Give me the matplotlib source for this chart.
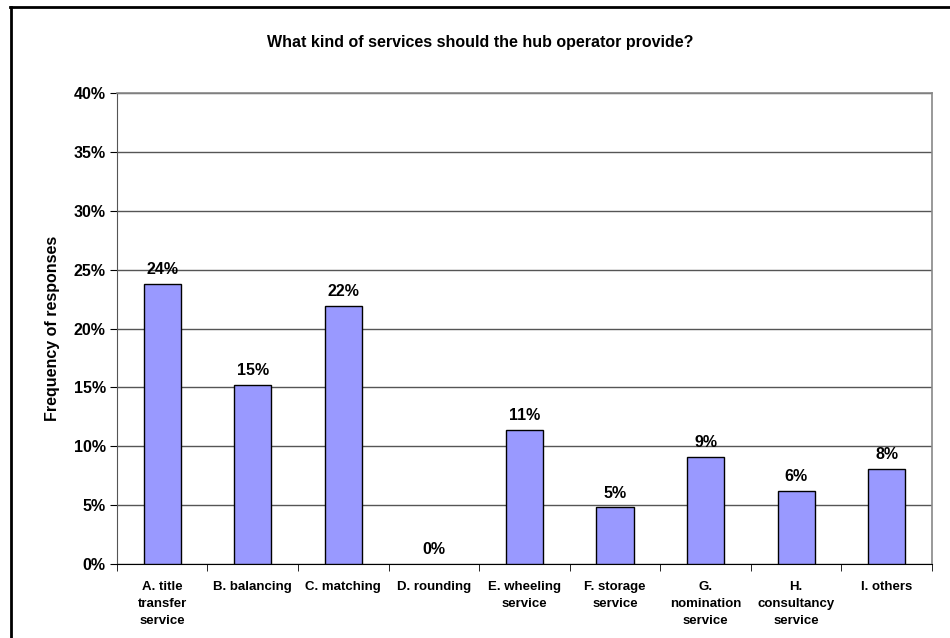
import matplotlib
matplotlib.use("Agg")
import matplotlib.pyplot as plt
from matplotlib.lines import Line2D
import numpy as np

plt.rcParams['font.family'] = ['Liberation Sans', 'DejaVu Sans']
plt.rcParams['font.weight'] = 'bold'

categories = ["A. title\ntransfer\nservice", "B. balancing", "C. matching", "D. rounding",
              "E. wheeling\nservice", "F. storage\nservice", "G.\nnomination\nservice",
              "H.\nconsultancy\nservice", "I. others"]
values = [23.8, 15.2, 21.9, 0.0, 11.4, 4.8, 9.1, 6.2, 8.1]
yticks = [0, 5, 10, 15, 20, 25, 30, 35, 40]

fig = plt.figure(figsize=(9.5, 6.38), dpi=100)
ax = fig.add_axes([0.123, 0.116, 0.858, 0.738])

x = np.arange(len(categories))
edges = ['black' if v > 0 else 'none' for v in values]
ax.bar(x, values, width=0.41, color='#9999FF', edgecolor=edges, linewidth=1.0, zorder=3)

for xi, v in zip(x, values):
    ax.annotate("%d%%" % round(v), (xi, v), xytext=(0, 5), textcoords='offset points',
                ha='center', va='bottom', fontsize=11.5, fontweight='bold', zorder=4)

ax.set_xlim(-0.5, len(categories) - 0.5)
ax.set_ylim(0, 40)
ax.set_yticks(yticks)
ax.set_yticklabels(["%d%%" % t for t in yticks], fontsize=11.5, fontweight='bold')
ax.yaxis.grid(True, color='#555555', linewidth=1.0, zorder=0)

ax.set_xticks(x)
ax.set_xticklabels(categories, fontsize=9.5, fontweight='bold', linespacing=1.6, va='top')
ax.set_xticks(np.arange(-0.5, len(categories)), minor=True)
ax.tick_params(axis='x', which='major', length=0, pad=12)
ax.tick_params(axis='x', which='minor', length=5, direction='out', color='black')
ax.tick_params(axis='y', length=5, direction='out', color='black', pad=3)

for side in ['top', 'right']:
    ax.spines[side].set_color('#888888')
    ax.spines[side].set_linewidth(1.2)
ax.spines['left'].set_color('#555555')
ax.spines['bottom'].set_color('black')

ax.set_ylabel("Frequency of responses", fontsize=11.5, fontweight='bold', labelpad=10)

fig.text(0.505, 0.933, "What kind of services should the hub operator provide?",
         ha='center', va='center', fontsize=11.5, fontweight='bold')

# outer frame lines (top and left visible)
fig.add_artist(Line2D([10 / 950, 1.0], [1 - 7 / 638, 1 - 7 / 638], color='black', linewidth=2,
                      transform=fig.transFigure))
fig.add_artist(Line2D([11 / 950, 11 / 950], [0, 1 - 7 / 638], color='black', linewidth=2,
                      transform=fig.transFigure))

fig.savefig("out.png", dpi=100)
